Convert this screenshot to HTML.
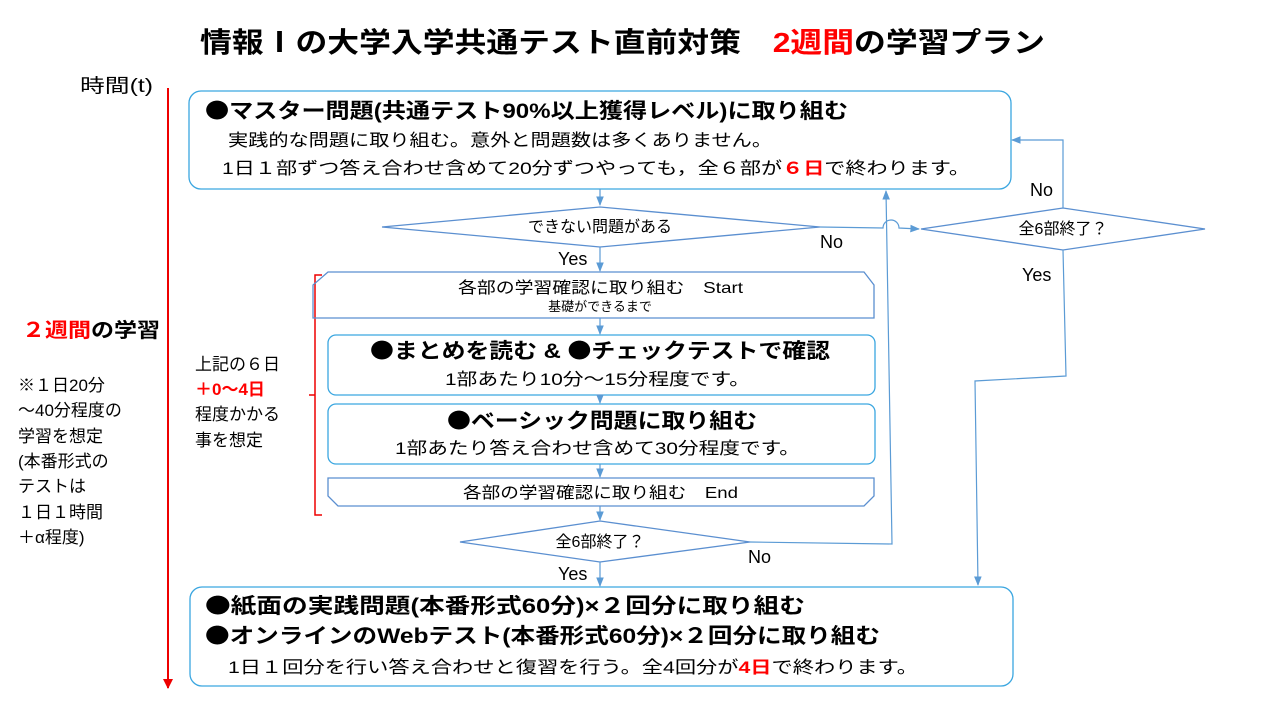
<!DOCTYPE html>
<html><head><meta charset="utf-8"><style>
html,body{margin:0;padding:0;background:#fff;}
svg text{font-family:"Liberation Sans","Noto Sans CJK JP",sans-serif;fill:#000;}
.b{font-family:"Noto Sans CJK JP",sans-serif;}
</style></head><body>
<svg width="1280" height="720" viewBox="0 0 1280 720" xmlns="http://www.w3.org/2000/svg">
<defs>
<marker id="a" viewBox="0 0 10 10" refX="9" refY="5" markerWidth="8" markerHeight="8" orient="auto-start-reverse"><path d="M0,1 L10,5 L0,9z" fill="#5b9bd5"/></marker>
<marker id="r" viewBox="0 0 10 10" refX="9" refY="5" markerWidth="5" markerHeight="5" orient="auto"><path d="M0,0 L10,5 L0,10z" fill="#e00"/></marker>
</defs>
<text x="200" y="52" font-size="28" font-weight="bold" textLength="845" lengthAdjust="spacingAndGlyphs">情報Ⅰの大学入学共通テスト直前対策　<tspan style="fill:#f00">2週間</tspan>の学習プラン</text>
<text x="80" y="92" font-size="19" textLength="73" lengthAdjust="spacingAndGlyphs">時間(t)</text>
<line x1="168" y1="88" x2="168" y2="688" stroke="#e00" stroke-width="2" marker-end="url(#r)"/>
<text x="22" y="337" font-size="20" font-weight="bold" textLength="138" lengthAdjust="spacingAndGlyphs"><tspan style="fill:#f00">２週間</tspan>の学習</text>
<g font-size="17">
<text x="18" y="391">※１日20分</text>
<text x="18" y="416"> ～40分程度の</text>
<text x="18" y="442">学習を想定</text>
<text x="18" y="467">(本番形式の</text>
<text x="18" y="492"> テストは</text>
<text x="18" y="518"> １日１時間</text>
<text x="18" y="543"> ＋α程度)</text>
<text x="195" y="370">上記の６日</text>
<text x="195" y="395" font-weight="bold" style="fill:#f00">＋0～4日</text>
<text x="195" y="420">程度かかる</text>
<text x="195" y="446">事を想定</text>
</g>
<path d="M322,275 L315,275 L315,515 L322,515 M315,395 L309,395" fill="none" stroke="#e00" stroke-width="1.5"/>
<g fill="none" stroke="#3aa6e0" stroke-width="1.3">
<rect x="189" y="91" width="822" height="98" rx="12"/>
<rect x="328" y="335" width="547" height="60" rx="8"/>
<rect x="328" y="404" width="547" height="60" rx="8"/>
<rect x="190" y="587" width="823" height="99" rx="12"/>
</g>
<g fill="none" stroke="#5b8fd0" stroke-width="1.3">
<path d="M328,272 L864,272 L874,285 L874,318 L313,318 L313,285z"/>
<path d="M328,478 L874,478 L874,496 L864,506 L338,506 L328,496z"/>
<path d="M382,227 L600,207 L820,227 L600,247z"/>
<path d="M921,229 L1063,208 L1205,229 L1063,250z"/>
<path d="M460,542 L600,521 L750,542 L600,562z"/>
</g>
<g fill="none" stroke="#5b9bd5" stroke-width="1.2">
<line x1="600" y1="189" x2="600" y2="205" marker-end="url(#a)"/>
<line x1="600" y1="247" x2="600" y2="271" marker-end="url(#a)"/>
<line x1="600" y1="318" x2="600" y2="334" marker-end="url(#a)"/>
<line x1="600" y1="395" x2="600" y2="403" marker-end="url(#a)"/>
<line x1="600" y1="464" x2="600" y2="477" marker-end="url(#a)"/>
<line x1="600" y1="506" x2="600" y2="520" marker-end="url(#a)"/>
<line x1="600" y1="562" x2="600" y2="586" marker-end="url(#a)"/>
<path d="M820,227 L883,228 A8,8 0 0 1 899,228 L919,229" marker-end="url(#a)"/>
<path d="M750,542 L892,544 L886,191" marker-end="url(#a)"/>
<path d="M1063,208 L1063,140 L1012,140" marker-end="url(#a)"/>
<path d="M1063,250 L1066,376 L975,381 L978,585" marker-end="url(#a)"/>
</g>
<g font-size="18">
<text x="820" y="248">No</text>
<text x="1030" y="196">No</text>
<text x="1022" y="281">Yes</text>
<text x="558" y="265">Yes</text>
<text x="748" y="563">No</text>
<text x="558" y="580">Yes</text>
</g>
<text x="205" y="118" font-size="21" font-weight="bold" textLength="643" lengthAdjust="spacingAndGlyphs"><tspan class="b">●</tspan>マスター問題(共通テスト90%以上獲得レベル)に取り組む</text>
<text x="228" y="146" font-size="17" textLength="544" lengthAdjust="spacingAndGlyphs">実践的な問題に取り組む。意外と問題数は多くありません。</text>
<text x="222" y="174" font-size="17" textLength="748" lengthAdjust="spacingAndGlyphs">1日１部ずつ答え合わせ含めて20分ずつやっても，全６部が<tspan font-weight="bold" style="fill:#f00">６日</tspan>で終わります。</text>
<text x="600" y="232" font-size="16" text-anchor="middle">できない問題がある</text>
<text x="1063" y="234" font-size="16" text-anchor="middle">全6部終了？</text>
<text x="458" y="293" font-size="16" textLength="285" lengthAdjust="spacingAndGlyphs">各部の学習確認に取り組む　Start</text>
<text x="600" y="311" font-size="13" text-anchor="middle">基礎ができるまで</text>
<text x="370" y="358" font-size="21" font-weight="bold" textLength="460" lengthAdjust="spacingAndGlyphs"><tspan class="b">●</tspan>まとめを読む &amp; <tspan class="b">●</tspan>チェックテストで確認</text>
<text x="445" y="385" font-size="17" textLength="305" lengthAdjust="spacingAndGlyphs">1部あたり10分～15分程度です。</text>
<text x="447" y="428" font-size="21" font-weight="bold" textLength="310" lengthAdjust="spacingAndGlyphs"><tspan class="b">●</tspan>ベーシック問題に取り組む</text>
<text x="395" y="454" font-size="17" textLength="405" lengthAdjust="spacingAndGlyphs">1部あたり答え合わせ含めて30分程度です。</text>
<text x="463" y="498" font-size="16" textLength="275" lengthAdjust="spacingAndGlyphs">各部の学習確認に取り組む　End</text>
<text x="600" y="547" font-size="16" text-anchor="middle">全6部終了？</text>
<text x="205" y="613" font-size="21" font-weight="bold" textLength="600" lengthAdjust="spacingAndGlyphs"><tspan class="b">●</tspan>紙面の実践問題(本番形式60分)×２回分に取り組む</text>
<text x="205" y="643" font-size="21" font-weight="bold" textLength="675" lengthAdjust="spacingAndGlyphs"><tspan class="b">●</tspan>オンラインのWebテスト(本番形式60分)×２回分に取り組む</text>
<text x="228" y="673" font-size="17" textLength="690" lengthAdjust="spacingAndGlyphs">1日１回分を行い答え合わせと復習を行う。全4回分が<tspan font-weight="bold" style="fill:#f00">4日</tspan>で終わります。</text>
</svg>
</body></html>
